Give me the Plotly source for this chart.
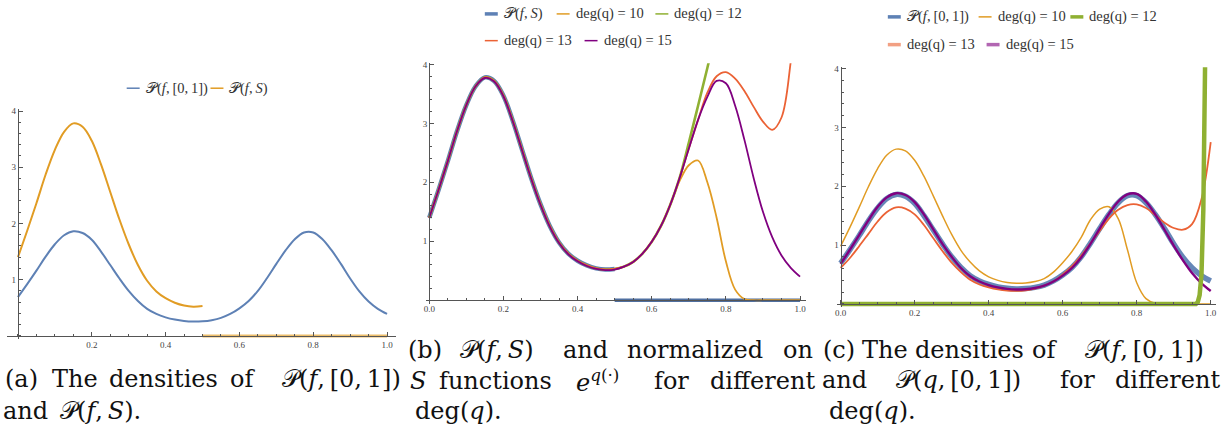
import plotly.graph_objects as go

W, H = 1223, 431

# ---------------- data ----------------
X_GRID = [0.0, 0.025, 0.05, 0.075, 0.1, 0.125, 0.15, 0.175, 0.2, 0.225, 0.25,
          0.275, 0.3, 0.325, 0.35, 0.375, 0.4, 0.425, 0.45, 0.475, 0.5, 0.525,
          0.55, 0.575, 0.6, 0.625, 0.65, 0.675, 0.7, 0.725, 0.75, 0.775, 0.8,
          0.825, 0.85, 0.875, 0.9, 0.925, 0.95, 0.975, 1.0]
X_HALF = [0.0, 0.025, 0.05, 0.075, 0.1, 0.125, 0.15, 0.175, 0.2, 0.225, 0.25,
          0.275, 0.3, 0.325, 0.35, 0.375, 0.4, 0.425, 0.45, 0.475, 0.5]
X_OUTSIDE_S = [0.5, 1.0]
ZERO_OUTSIDE_S = [0.0, 0.0]

# P(f,[0,1])
DENS_F_01 = [0.69, 0.92, 1.16, 1.41, 1.63, 1.79, 1.86, 1.83, 1.71, 1.50, 1.26,
             1.02, 0.80, 0.62, 0.48, 0.39, 0.33, 0.29, 0.265, 0.255, 0.26, 0.28,
             0.32, 0.39, 0.49, 0.62, 0.80, 1.03, 1.28, 1.52, 1.72, 1.84, 1.84,
             1.72, 1.52, 1.28, 1.02, 0.79, 0.61, 0.48, 0.39]
# P(f,S), S = [0, 0.5]
DENS_F_S = [1.40, 1.87, 2.36, 2.87, 3.31, 3.63, 3.78, 3.72, 3.47, 3.05, 2.56,
            2.07, 1.63, 1.26, 0.98, 0.79, 0.67, 0.59, 0.54, 0.52, 0.53]

# panel (b): normalized on S, e^q for several degrees
DEG10_S = [1.40, 1.87, 2.36, 2.87, 3.31, 3.63, 3.78, 3.72, 3.47, 3.05, 2.56,
           2.07, 1.63, 1.26, 0.98, 0.79, 0.67, 0.59, 0.54, 0.52, 0.53, 0.57,
           0.65, 0.79, 0.99, 1.26, 1.62, 2.02, 2.29, 2.37, 2.00, 1.40, 0.66,
           0.18, 0.02, 0.0, 0.0, 0.0, 0.0, 0.0, 0.0]
X_DEG12_S = X_GRID[:32]
DEG12_S = [1.40, 1.87, 2.36, 2.87, 3.31, 3.63, 3.78, 3.72, 3.47, 3.05, 2.56,
           2.07, 1.63, 1.26, 0.98, 0.79, 0.67, 0.59, 0.54, 0.52, 0.53, 0.57,
           0.65, 0.79, 0.99, 1.26, 1.62, 2.07, 2.67, 3.30, 3.94, 4.60]
DEG13_S = [1.40, 1.87, 2.36, 2.87, 3.31, 3.63, 3.78, 3.72, 3.47, 3.05, 2.56,
           2.07, 1.63, 1.26, 0.98, 0.79, 0.67, 0.59, 0.54, 0.52, 0.53, 0.57,
           0.65, 0.79, 0.99, 1.26, 1.62, 2.07, 2.57, 3.06, 3.52, 3.80, 3.87,
           3.76, 3.55, 3.28, 3.03, 2.89, 3.10, 4.05, 5.60]
DEG15_S = [1.40, 1.87, 2.36, 2.87, 3.31, 3.63, 3.77, 3.71, 3.46, 3.04, 2.55,
           2.06, 1.62, 1.25, 0.97, 0.78, 0.66, 0.58, 0.53, 0.51, 0.52, 0.57,
           0.65, 0.79, 0.99, 1.26, 1.62, 2.07, 2.57, 3.06, 3.45, 3.72, 3.68,
           3.30, 2.72, 2.07, 1.50, 1.07, 0.76, 0.55, 0.40]

# panel (c): P(q,[0,1]) for several degrees
DEG10_01 = [0.98, 1.30, 1.64, 1.99, 2.30, 2.53, 2.63, 2.60, 2.44, 2.17, 1.84,
            1.50, 1.18, 0.91, 0.71, 0.56, 0.46, 0.40, 0.365, 0.35, 0.355, 0.38,
            0.43, 0.54, 0.70, 0.89, 1.13, 1.43, 1.61, 1.65, 1.45, 0.92, 0.36,
            0.09, 0.01, 0.0, 0.0, 0.0, 0.0, 0.0, 0.0]
X_DEG12_01 = [0.0, 0.95, 0.96, 0.965, 0.97, 0.975, 0.98, 0.985, 0.99]
DEG12_01 = [0.0, 0.0, 0.0, 0.03, 0.15, 0.5, 1.6, 4.2, 8.0]
DEG13_01 = [0.61, 0.78, 0.98, 1.19, 1.40, 1.56, 1.64, 1.62, 1.52, 1.34, 1.12,
            0.90, 0.70, 0.54, 0.41, 0.33, 0.28, 0.245, 0.225, 0.22, 0.23, 0.26,
            0.31, 0.38, 0.50, 0.64, 0.82, 1.03, 1.24, 1.45, 1.60, 1.68, 1.69,
            1.63, 1.51, 1.38, 1.29, 1.26, 1.36, 1.78, 2.75]
DEG15_01 = [0.68, 0.92, 1.17, 1.42, 1.65, 1.81, 1.88, 1.85, 1.73, 1.52, 1.27,
            1.02, 0.80, 0.61, 0.47, 0.38, 0.32, 0.28, 0.255, 0.245, 0.25, 0.27,
            0.31, 0.38, 0.48, 0.61, 0.79, 1.02, 1.28, 1.53, 1.74, 1.86, 1.87,
            1.74, 1.52, 1.26, 0.99, 0.74, 0.52, 0.35, 0.22]

X_TICKS_A = [0.2, 0.4, 0.6, 0.8, 1.0]
X_TICKTEXT_A = ["0.2", "0.4", "0.6", "0.8", "1.0"]
X_TICKS_BC = [0.0, 0.2, 0.4, 0.6, 0.8, 1.0]
X_TICKTEXT_BC = ["0.0", "0.2", "0.4", "0.6", "0.8", "1.0"]
Y_TICKS = [1, 2, 3, 4]
Y_TICKTEXT = ["1", "2", "3", "4"]

# ---------------- style ----------------
BLUE = "#5E81B5"
ORANGE = "#E19C24"
GREEN = "#8FB032"
RED = "#EB6235"
PURPLE = "#800080"
AX = "#555555"
SERIF = "Liberation Serif"
CAP_FONT = dict(family="DejaVu Serif", size=24, color="#111111")
LEG_FONT = dict(family=SERIF, size=14.5, color="#333333")
P = "\U0001D4AB"
TS = "\u2009"  # thin space

# pixel geometry of each panel: pixel of x=0, px per x unit, pixel of y=0, px per y unit
PANELS = {
    "a": dict(x0=16.0, xs=370.0, y0=335.0, ys=56.75, xr=[-0.03, 1.025], yr=[-0.06, 4.03]),
    "b": dict(x0=428.3, xs=371.7, y0=299.0, ys=59.5, xr=[-0.01, 1.015], yr=[-0.06, 4.02]),
    "c": dict(x0=840.7, xs=371.0, y0=302.7, ys=59.4, xr=[-0.01, 1.015], yr=[-0.06, 4.02]),
}

fig = go.Figure()


def add_line(x, y, color, width, ax, shape="spline", opacity=1.0, name=""):
    fig.add_trace(go.Scatter(
        x=x, y=y, mode="lines", name=name, showlegend=False, opacity=opacity,
        line=dict(color=color, width=width, shape=shape, smoothing=1.0),
        xaxis="x" + ax, yaxis="y" + ax, hoverinfo="skip"))


# panel (a)
add_line(X_GRID, DENS_F_01, BLUE, 2, "", name="P(f,[0,1])")
add_line(X_HALF, DENS_F_S, ORANGE, 2, "", name="P(f,S)")
add_line(X_OUTSIDE_S, ZERO_OUTSIDE_S, "#EDBE6A", 3, "", shape="linear")

# panel (b)
add_line(X_HALF, DENS_F_S, BLUE, 4.5, "2", name="P(f,S)")
add_line(X_OUTSIDE_S, ZERO_OUTSIDE_S, "#4F6FA0", 3.5, "2", shape="linear")
add_line(X_DEG12_S, DEG12_S, GREEN, 2.6, "2", name="deg(q)=12")
add_line(X_GRID, DEG10_S, ORANGE, 1.8, "2", name="deg(q)=10")
add_line(X_GRID, DEG13_S, RED, 1.8, "2", name="deg(q)=13")
add_line(X_GRID, DEG15_S, PURPLE, 1.8, "2", name="deg(q)=15")

# panel (c)
add_line(X_GRID, DENS_F_01, BLUE, 5.5, "3", opacity=0.95, name="P(f,[0,1])")
add_line(X_GRID, DEG10_01, ORANGE, 1.5, "3", name="deg(q)=10")
add_line(X_GRID, DEG13_01, RED, 1.8, "3", name="deg(q)=13")
add_line(X_GRID, DEG15_01, PURPLE, 2.4, "3", name="deg(q)=15")
add_line(X_DEG12_01, DEG12_01, GREEN, 4.5, "3", shape="linear", name="deg(q)=12")

tickfont = dict(family=SERIF, size=9, color="#444444")


def axes(p, xt, xtt):
    xdom = [(p["x0"] + p["xr"][0] * p["xs"]) / W, (p["x0"] + p["xr"][1] * p["xs"]) / W]
    ydom = [1 - (p["y0"] - p["yr"][0] * p["ys"]) / H, 1 - (p["y0"] - p["yr"][1] * p["ys"]) / H]
    xa = dict(domain=xdom, range=p["xr"], anchor="free", position=1 - p["y0"] / H,
              showline=True, linecolor=AX, linewidth=1, ticks="inside", ticklen=4,
              tickwidth=1, tickcolor=AX, tickvals=xt, ticktext=xtt, tickfont=tickfont,
              minor=dict(ticks="inside", ticklen=2, tickcolor=AX, dtick=0.05, tick0=0),
              showgrid=False, zeroline=False, fixedrange=True)
    ya = dict(domain=ydom, range=p["yr"], anchor="free", position=p["x0"] / W,
              showline=True, linecolor=AX, linewidth=1.3, ticks="inside", ticklen=4,
              tickwidth=1, tickcolor=AX, tickvals=Y_TICKS, ticktext=Y_TICKTEXT,
              tickfont=tickfont,
              minor=dict(ticks="inside", ticklen=2, tickcolor=AX, dtick=0.2, tick0=0),
              showgrid=False, zeroline=False, fixedrange=True)
    return xa, ya


xa, ya = axes(PANELS["a"], X_TICKS_A, X_TICKTEXT_A)
xb, yb = axes(PANELS["b"], X_TICKS_BC, X_TICKTEXT_BC)
xc, yc = axes(PANELS["c"], X_TICKS_BC, X_TICKTEXT_BC)

ann = []
shapes = []


def txt(x, y, s, font, xanchor="center"):
    ann.append(dict(x=x / W, y=1 - y / H, xref="paper", yref="paper", text=s,
                    showarrow=False, xanchor=xanchor, yanchor="middle", font=font))


def legend_item(x_dash, y, color, width, label):
    # short line sample followed by the label (pixel layout of the reference legends)
    shapes.append(dict(type="line", xref="paper", yref="paper",
                       x0=x_dash / W, x1=(x_dash + 13) / W,
                       y0=1 - y / H, y1=1 - y / H,
                       line=dict(color=color, width=width)))
    txt(x_dash + 17, y, label, LEG_FONT, "left")


L_F01 = P + "(<i>f</i>," + TS + "[0," + TS + "1])"
L_FS = P + "(<i>f</i>," + TS + "<i>S</i>)"

# legends
legend_item(125, 85, BLUE, 1.5, L_F01)
legend_item(209, 85, ORANGE, 1.5, L_FS)

legend_item(484, 10, BLUE, 3.5, L_FS)
legend_item(556, 10, ORANGE, 1.5, "deg(q) = 10")
legend_item(655, 10, GREEN, 1.5, "deg(q) = 12")
legend_item(484, 37, RED, 1.5, "deg(q) = 13")
legend_item(584, 37, PURPLE, 1.5, "deg(q) = 15")

legend_item(888, 13, BLUE, 3.5, L_F01)
legend_item(979, 13, ORANGE, 1.5, "deg(q) = 10")
legend_item(1071, 13, GREEN, 3.5, "deg(q) = 12")
legend_item(888, 41, "#F2A083", 3.5, "deg(q) = 13")
legend_item(987, 41, "#B266B2", 3.5, "deg(q) = 15")

# captions, word by word (justified text)
P_F01 = P + "(<i>f</i>," + TS + "[0," + TS + "1])"
P_FS = P + "(<i>f</i>," + TS + "<i>S</i>)"
P_Q01 = P + "(<i>q</i>," + TS + "[0," + TS + "1])"
CAPTION_WORDS = [
    (20, 379, "(a)"), (73.5, 379, "The"), (161.5, 379, "densities"), (241.5, 379, "of"),
    (340, 379, P_F01),
    (24, 411, "and"), (98.5, 411, P_FS + "."),
    (424, 349, "(b)"), (496.5, 349, P_FS), (584.5, 349, "and"),
    (695, 349, "normalized"), (798, 349, "on"),
    (417.5, 381, "<i>S</i>"), (495, 381, "functions"),
    (597, 381, "<i>e</i><sup><i>q</i>(\u00b7)</sup>"), (671, 381, "for"), (762.5, 381, "different"),
    (457.5, 411, "deg(<i>q</i>)."),
    (839, 349, "(c)"), (885.5, 349, "The"), (970, 349, "densities"), (1045, 349, "of"),
    (1145.5, 349, P_F01),
    (845, 380, "and"), (959, 380, P_Q01), (1078, 380, "for"),
    (1168, 380, "different"),
    (872.5, 411, "deg(<i>q</i>)."),
]
for cx, cy, s in CAPTION_WORDS:
    txt(cx, cy, s, CAP_FONT)

fig.update_layout(
    width=W, height=H, margin=dict(l=0, r=0, t=0, b=0),
    paper_bgcolor="white", plot_bgcolor="rgba(0,0,0,0)",
    showlegend=False, hovermode=False,
    xaxis=xa, yaxis=ya, xaxis2=xb, yaxis2=yb, xaxis3=xc, yaxis3=yc,
    annotations=ann, shapes=shapes,
)

fig.write_html("out.html", config={"displayModeBar": False},
               post_script="document.body.style.margin='0px';document.body.style.overflow='hidden';")
